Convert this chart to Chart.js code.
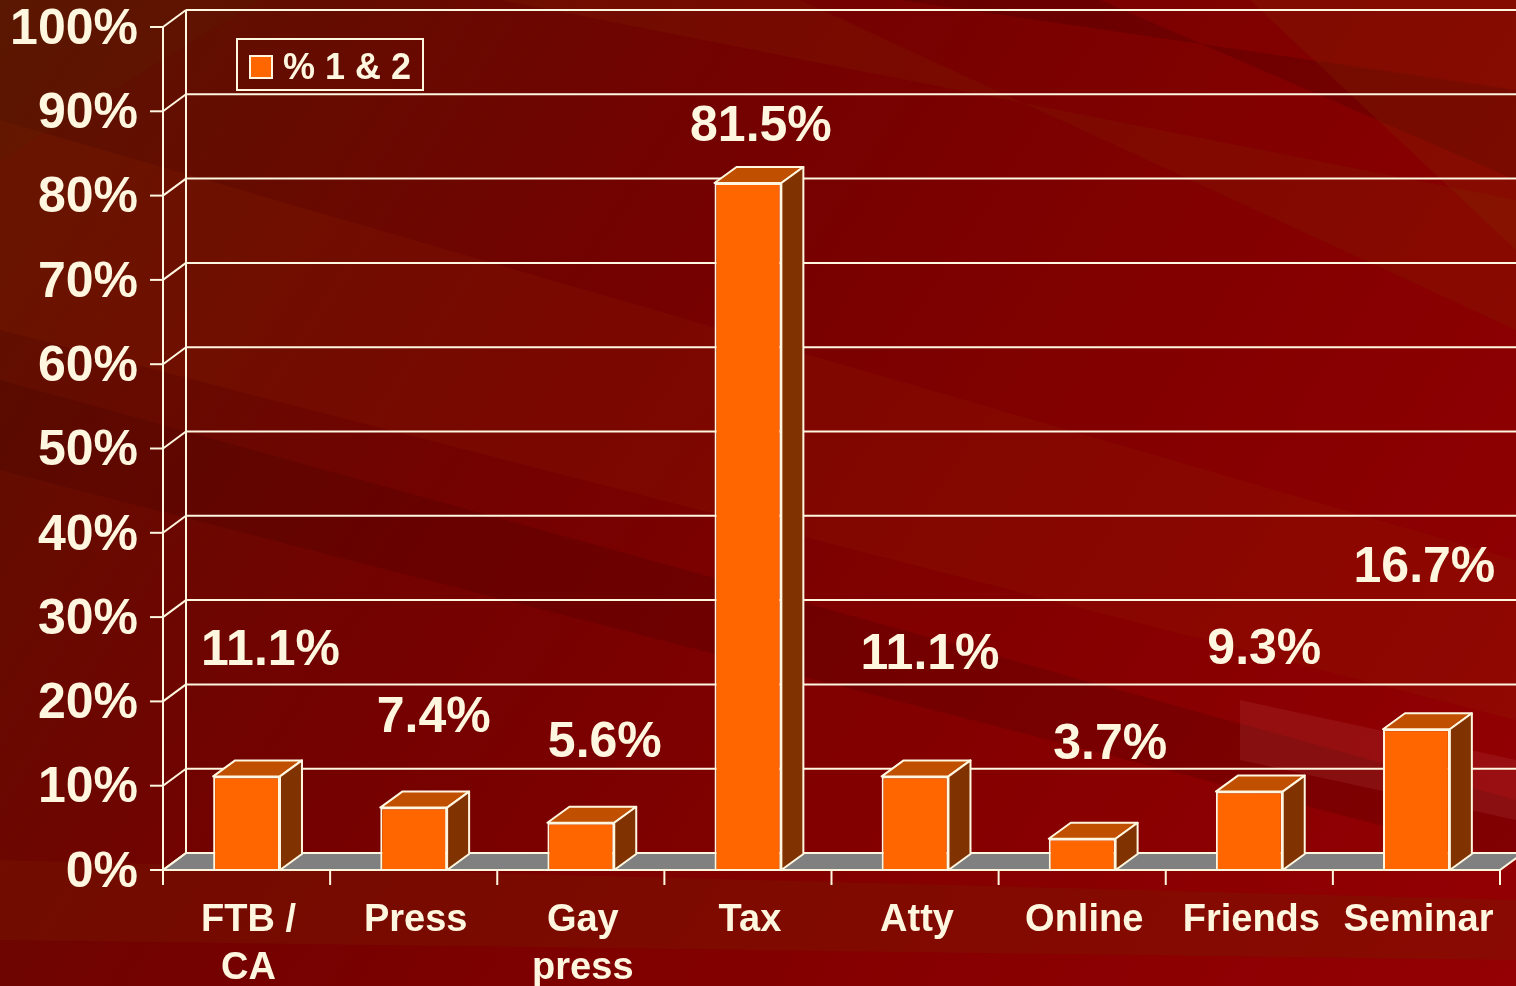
<!DOCTYPE html>
<html>
<head>
<meta charset="utf-8">
<style>
  html, body { margin: 0; padding: 0; background: #7a0000; }
  #wrap { width: 1516px; height: 986px; position: relative; }
</style>
<script src="https://cdn.jsdelivr.net/npm/chart.js@4.4.1/dist/chart.umd.min.js"></script>
</head>
<body>
<div id="wrap"><canvas id="chart" width="1516" height="986"></canvas></div>
<script>
// data
var categories = [['FTB /', 'CA'], 'Press', ['Gay', 'press'], 'Tax', 'Atty', 'Online', 'Friends', 'Seminar'];
var seriesName = '% 1 & 2';
var values = [11.1, 7.4, 5.6, 81.5, 11.1, 3.7, 9.3, 16.7];
var tickLabels = ['0%', '10%', '20%', '30%', '40%', '50%', '60%', '70%', '80%', '90%', '100%'];

// label placement (style only, px)
var labelLift = [128, 92, 83, 59, 124, 97, 144, 164];
var labelShift = [24, 20, 24, 13, 15, 28, 15, 8];

var CREAM = '#fff6e0';
var FONT = '"Liberation Sans", Arial, sans-serif';
var WALL_DX = 23, WALL_DY = 17;
var BAR_DX = 22, BAR_DY = 16;

/* ======= background with streaks ======= */
var backdrop = {
    id: 'backdrop',
    beforeDraw: function (chart) {
        var c = chart.ctx, w = chart.width, h = chart.height;
        c.save();
        var g = c.createLinearGradient(0, 0, w, h);
        g.addColorStop(0, '#5a1400');
        g.addColorStop(0.35, '#720200');
        g.addColorStop(0.7, '#860000');
        g.addColorStop(1, '#940004');
        c.fillStyle = g;
        c.fillRect(0, 0, w, h);

        var streaks = [
            [[0, 120], [0, 330], [1516, 720], [1516, 560], 'rgba(150,40,0,0.18)'],
            [[0, 380], [0, 470], [1516, 860], [1516, 800], 'rgba(60,0,0,0.20)'],
            [[500, 0], [800, 0], [1516, 330], [1516, 200], 'rgba(130,40,0,0.22)'],
            [[900, 0], [1100, 0], [1516, 180], [1516, 90], 'rgba(40,0,0,0.18)'],
            [[1250, 0], [1516, 0], [1516, 250], 'rgba(130,50,0,0.22)'],
            [[0, 860], [0, 940], [1516, 960], [1516, 900], 'rgba(120,30,0,0.35)'],
            [[1240, 700], [1240, 760], [1516, 820], [1516, 760], 'rgba(220,120,120,0.12)'],
            [[0, 0], [260, 0], [0, 160], 'rgba(90,30,0,0.25)']
        ];
        streaks.forEach(function (s) {
            c.beginPath();
            for (var i = 0; i < s.length - 1; i++) {
                if (i === 0) c.moveTo(s[i][0], s[i][1]); else c.lineTo(s[i][0], s[i][1]);
            }
            c.closePath();
            c.fillStyle = s[s.length - 1];
            c.fill();
        });
        c.restore();
    }
};

/* ======= walls, floor, gridlines ======= */
var walls = {
    id: 'walls',
    beforeDatasetsDraw: function (chart) {
        var c = chart.ctx, a = chart.chartArea, y = chart.scales.y;
        var left = a.left, right = a.right, base = y.getPixelForValue(0);
        c.save();
        c.strokeStyle = CREAM;
        c.lineWidth = 2;

        // floor
        c.beginPath();
        c.moveTo(left, base);
        c.lineTo(left + WALL_DX, base - WALL_DY);
        c.lineTo(right + WALL_DX, base - WALL_DY);
        c.lineTo(right, base);
        c.closePath();
        c.fillStyle = '#808080';
        c.fill();
        c.stroke();

        // back wall gridlines + left wall diagonals
        for (var v = 0; v <= 100; v += 10) {
            var py = y.getPixelForValue(v);
            c.beginPath();
            c.moveTo(left + WALL_DX, py - WALL_DY);
            c.lineTo(chart.width + 40, py - WALL_DY);
            c.stroke();
            c.beginPath();
            c.moveTo(left, py);
            c.lineTo(left + WALL_DX, py - WALL_DY);
            c.stroke();
        }
        // verticals
        c.beginPath();
        c.moveTo(left, base);
        c.lineTo(left, y.getPixelForValue(100));
        c.moveTo(left + WALL_DX, base - WALL_DY);
        c.lineTo(left + WALL_DX, y.getPixelForValue(100) - WALL_DY);
        c.stroke();
        c.restore();
    }
};

/* ======= 3D bar faces ======= */
var bars3d = {
    id: 'bars3d',
    afterDatasetsDraw: function (chart) {
        var c = chart.ctx;
        var meta = chart.getDatasetMeta(0);
        c.save();
        c.strokeStyle = CREAM;
        c.lineWidth = 2;
        c.lineJoin = 'round';
        meta.data.forEach(function (bar) {
            var p = bar.getProps(['x', 'y', 'base', 'width'], true);
            var xl = p.x - p.width / 2, xr = p.x + p.width / 2;
            // top
            c.beginPath();
            c.moveTo(xl, p.y);
            c.lineTo(xl + BAR_DX, p.y - BAR_DY);
            c.lineTo(xr + BAR_DX, p.y - BAR_DY);
            c.lineTo(xr, p.y);
            c.closePath();
            c.fillStyle = '#c04f00';
            c.fill();
            c.stroke();
            // side
            c.beginPath();
            c.moveTo(xr, p.y);
            c.lineTo(xr + BAR_DX, p.y - BAR_DY);
            c.lineTo(xr + BAR_DX, p.base - BAR_DY);
            c.lineTo(xr, p.base);
            c.closePath();
            c.fillStyle = '#803300';
            c.fill();
            c.stroke();
        });
        c.restore();
    }
};

/* ======= axes text, ticks, labels, legend ======= */
var overlay = {
    id: 'overlay',
    afterDraw: function (chart) {
        var c = chart.ctx, a = chart.chartArea, x = chart.scales.x, y = chart.scales.y;
        var base = y.getPixelForValue(0);
        c.save();
        c.strokeStyle = CREAM;
        c.fillStyle = CREAM;
        c.lineWidth = 2;

        // front axis line
        c.beginPath();
        c.moveTo(a.left, base);
        c.lineTo(a.right, base);
        c.stroke();

        // y ticks and labels
        c.font = 'bold 50px ' + FONT;
        c.textAlign = 'right';
        c.textBaseline = 'middle';
        tickLabels.forEach(function (t, i) {
            var py = y.getPixelForValue(i * 10);
            c.beginPath();
            c.moveTo(a.left - 13, py);
            c.lineTo(a.left, py);
            c.stroke();
            c.fillText(t, a.left - 25, py + 3);
        });

        // x ticks
        var step = (a.right - a.left) / categories.length;
        for (var i = 0; i <= categories.length; i++) {
            var px = a.left + step * i;
            c.beginPath();
            c.moveTo(px, base);
            c.lineTo(px, base + 15);
            c.stroke();
        }

        // category labels
        c.font = 'bold 38px ' + FONT;
        c.textAlign = 'center';
        c.textBaseline = 'middle';
        categories.forEach(function (cat, i) {
            var px = x.getPixelForValue(i) + 2;
            var lines = Array.isArray(cat) ? cat : [cat];
            lines.forEach(function (ln, j) {
                c.fillText(ln, px, 921 + j * 48);
            });
        });

        // data labels
        c.font = 'bold 50px ' + FONT;
        var meta = chart.getDatasetMeta(0);
        meta.data.forEach(function (bar, i) {
            c.fillText(values[i].toFixed(1) + '%', x.getPixelForValue(i) + labelShift[i], bar.y - labelLift[i] + 3);
        });

        // legend
        c.strokeRect(237, 39, 186, 51);
        c.fillStyle = '#ff6600';
        c.fillRect(250, 56, 22, 22);
        c.strokeRect(250, 56, 22, 22);
        c.fillStyle = CREAM;
        c.font = 'bold 36px ' + FONT;
        c.textAlign = 'left';
        c.fillText(seriesName, 283, 69);
        c.restore();
    }
};

var ctx = document.getElementById('chart');
var chart = new Chart(ctx, {
    type: 'bar',
    data: {
        labels: categories,
        datasets: [{
            label: seriesName,
            data: values,
            backgroundColor: '#ff6600',
            borderColor: CREAM,
            borderWidth: 2,
            categoryPercentage: 1,
            barPercentage: 0.4
        }]
    },
    options: {
        responsive: false,
        animation: false,
        layout: { padding: { left: 163, right: 16, top: 27, bottom: 116 } },
        plugins: { legend: { display: false }, tooltip: { enabled: false } },
        scales: {
            x: { display: false },
            y: { display: false, min: 0, max: 100 }
        }
    },
    plugins: [backdrop, walls, bars3d, overlay]
});
</script>
</body>
</html>
